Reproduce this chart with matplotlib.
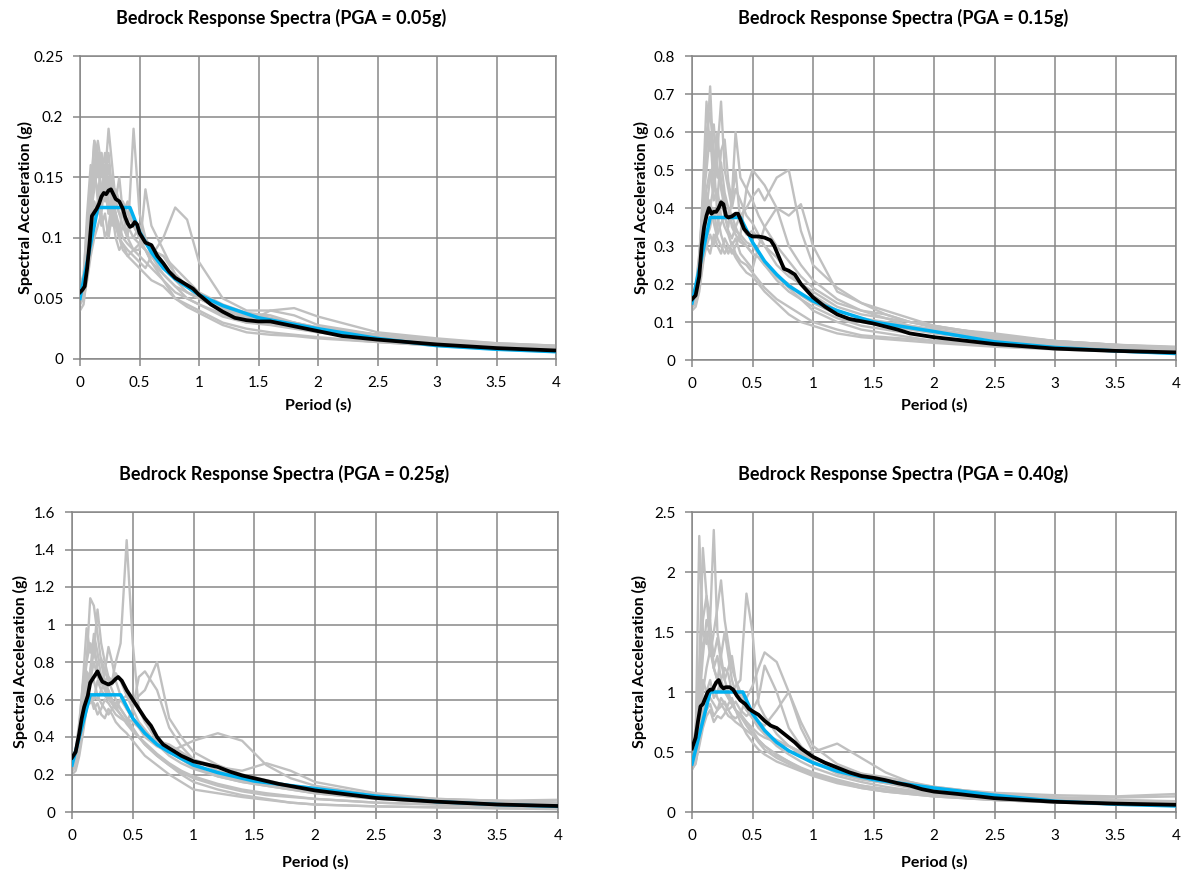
import numpy as np
import matplotlib
matplotlib.use('Agg')
import matplotlib.pyplot as plt

plt.rcParams['font.family'] = ['Lato', 'DejaVu Sans']

# periode (s) untuk rekaman gempa (garis abu-abu)
T_rec = [0, 0.03, 0.06, 0.09, 0.12, 0.15, 0.18, 0.21, 0.24, 0.27, 0.30, 0.33, 0.36, 0.40, 0.45,
         0.50, 0.55, 0.60, 0.70, 0.80, 0.90, 1.0, 1.2, 1.4, 1.6, 1.8, 2.0, 2.5, 3.0, 3.5, 4.0]

# ===== PGA 0.05g =====
rec_005 = [
    [.05, .06, .09, .13, .18, .15, .17, .14, .16, .13, .12, .11, .10, .095, .09, .085, .08, .075, .065, .055, .05, .045, .037, .03, .028, .025, .022, .017, .012, .010, .008],
    [.045, .055, .08, .12, .15, .17, .13, .16, .12, .14, .12, .10, .11, .10, .09, .09, .14, .11, .09, .07, .06, .05, .04, .033, .03, .027, .024, .018, .014, .011, .009],
    [.055, .06, .10, .15, .16, .13, .17, .15, .19, .16, .13, .12, .12, .11, .10, .095, .09, .085, .07, .06, .05, .045, .035, .03, .04, .036, .028, .02, .015, .012, .010],
    [.06, .07, .11, .14, .18, .17, .15, .17, .14, .15, .13, .12, .11, .10, .19, .12, .10, .09, .075, .065, .055, .05, .04, .035, .033, .03, .026, .02, .016, .013, .011],
    [.04, .045, .07, .09, .12, .13, .11, .12, .10, .12, .10, .09, .095, .085, .08, .075, .07, .065, .06, .05, .045, .04, .03, .025, .022, .02, .018, .014, .011, .008, .006],
    [.05, .06, .09, .12, .14, .16, .14, .13, .15, .12, .11, .10, .095, .09, .085, .08, .075, .085, .10, .125, .115, .08, .05, .04, .04, .042, .035, .022, .017, .013, .011],
    [.05, .055, .08, .11, .13, .12, .14, .16, .13, .11, .12, .10, .13, .12, .11, .10, .09, .08, .07, .06, .055, .05, .042, .038, .036, .03, .025, .02, .015, .012, .01],
    [.045, .05, .065, .085, .10, .11, .12, .10, .11, .13, .11, .10, .09, .085, .09, .095, .09, .08, .065, .05, .043, .038, .028, .022, .02, .019, .017, .014, .011, .009, .007],
    [.055, .065, .12, .16, .15, .14, .12, .15, .17, .14, .13, .15, .12, .10, .10, .11, .10, .09, .085, .075, .065, .055, .045, .038, .034, .03, .026, .02, .015, .011, .009],
    [.06, .065, .09, .13, .16, .18, .16, .14, .12, .13, .14, .13, .12, .13, .11, .10, .095, .09, .085, .07, .06, .05, .042, .035, .03, .026, .022, .017, .013, .010, .008],
]
T_tgt_005 = [0, 0.15, 0.42, 0.5, 0.6, 0.7, 0.8, 1.0, 1.2, 1.5, 2.0, 2.5, 3.0, 3.5, 4.0]
tgt_005 = [0.05, 0.125, 0.125, 0.105, 0.088, 0.075, 0.066, 0.053, 0.044, 0.034, 0.025, 0.017, 0.011, 0.008, 0.006]
T_avg_005 = [0, 0.02, 0.04, 0.06, 0.08, 0.1, 0.12, 0.14, 0.16, 0.18, 0.2, 0.22, 0.24, 0.26, 0.28, 0.3, 0.33,
             0.36, 0.38, 0.4, 0.42, 0.44, 0.46, 0.48, 0.5, 0.55, 0.6, 0.65, 0.7, 0.75, 0.8, 0.85, 0.9,
             0.95, 1.0, 1.1, 1.2, 1.3, 1.4, 1.5, 1.6, 1.7, 1.8, 2.0, 2.2, 2.5, 3.0, 3.5, 4.0]
avg_005 = [0.055, 0.057, 0.06, 0.075, 0.095, 0.118, 0.121, 0.124, 0.128, 0.134, 0.137, 0.136, 0.139, 0.14,
           0.136, 0.132, 0.13, 0.124, 0.117, 0.112, 0.109, 0.11, 0.113, 0.111, 0.104, 0.096, 0.094, 0.085,
           0.079, 0.072, 0.067, 0.064, 0.061, 0.058, 0.053, 0.045, 0.039, 0.034, 0.032, 0.031, 0.031,
           0.029, 0.027, 0.023, 0.019, 0.016, 0.012, 0.009, 0.007]

# ===== PGA 0.15g =====
rec_015 = [
    [.15, .17, .25, .45, .68, .55, .62, .50, .45, .40, .38, .36, .34, .33, .31, .30, .28, .26, .22, .20, .17, .15, .12, .10, .09, .08, .07, .05, .035, .028, .022],
    [.14, .16, .22, .38, .55, .72, .50, .60, .47, .42, .40, .35, .33, .31, .30, .28, .27, .25, .21, .18, .16, .14, .11, .09, .08, .07, .06, .045, .033, .026, .02],
    [.16, .18, .27, .42, .50, .60, .45, .55, .68, .50, .45, .40, .45, .42, .38, .36, .33, .30, .25, .22, .20, .17, .13, .11, .10, .09, .08, .055, .04, .032, .026],
    [.13, .14, .18, .25, .32, .35, .40, .33, .36, .38, .35, .43, .60, .48, .45, .42, .38, .35, .30, .26, .22, .19, .15, .13, .12, .10, .09, .06, .045, .035, .03],
    [.14, .15, .20, .28, .30, .28, .33, .30, .28, .32, .30, .28, .30, .33, .45, .50, .48, .46, .40, .30, .25, .21, .16, .13, .11, .10, .085, .07, .05, .04, .035],
    [.15, .16, .21, .30, .38, .42, .36, .32, .30, .28, .30, .29, .27, .25, .23, .22, .20, .18, .15, .12, .10, .09, .07, .06, .055, .05, .045, .035, .028, .022, .017],
    [.17, .19, .28, .40, .45, .50, .42, .45, .38, .35, .33, .30, .32, .28, .26, .24, .30, .35, .40, .38, .41, .30, .18, .15, .13, .11, .09, .065, .05, .04, .033],
    [.14, .15, .19, .26, .30, .33, .30, .35, .42, .38, .34, .32, .35, .38, .40, .43, .45, .42, .48, .50, .34, .25, .19, .15, .12, .10, .09, .065, .05, .04, .03],
    [.16, .17, .25, .40, .60, .65, .55, .48, .52, .44, .40, .38, .35, .32, .30, .28, .27, .25, .22, .19, .16, .13, .10, .08, .07, .06, .05, .04, .032, .025, .02],
    [.15, .17, .24, .35, .44, .40, .46, .42, .55, .58, .47, .42, .50, .36, .33, .34, .32, .30, .27, .23, .20, .18, .14, .12, .11, .09, .08, .06, .04, .03, .025],
    [.14, .16, .23, .33, .40, .48, .52, .38, .33, .30, .28, .31, .28, .26, .25, .23, .21, .19, .16, .14, .12, .10, .08, .065, .06, .055, .05, .04, .03, .024, .018],
]
T_tgt_015 = [0, 0.15, 0.4, 0.5, 0.6, 0.7, 0.8, 1.0, 1.2, 1.5, 2.0, 2.5, 3.0, 3.5, 4.0]
tgt_015 = [0.15, 0.375, 0.375, 0.31, 0.26, 0.225, 0.195, 0.155, 0.13, 0.10, 0.075, 0.048, 0.033, 0.024, 0.017]
T_avg_015 = [0, 0.03, 0.06, 0.08, 0.1, 0.12, 0.14, 0.16, 0.18, 0.2, 0.22, 0.24, 0.26, 0.28, 0.3, 0.33, 0.36,
             0.38, 0.4, 0.43, 0.47, 0.5, 0.55, 0.6, 0.65, 0.68, 0.72, 0.76, 0.8, 0.85, 0.9, 1.0, 1.1, 1.2,
             1.3, 1.5, 1.7, 1.8, 2.0, 2.5, 3.0, 3.5, 4.0]
avg_015 = [0.16, 0.17, 0.22, 0.3, 0.35, 0.38, 0.40, 0.385, 0.39, 0.39, 0.40, 0.415, 0.41, 0.38, 0.375, 0.378,
           0.385, 0.385, 0.37, 0.345, 0.33, 0.325, 0.325, 0.322, 0.315, 0.3, 0.27, 0.24, 0.235, 0.225, 0.2,
           0.165, 0.14, 0.12, 0.108, 0.096, 0.08, 0.07, 0.06, 0.042, 0.03, 0.024, 0.02]

# ===== PGA 0.25g =====
rec_025 = [
    [.25, .28, .45, .70, .98, .85, .92, .75, .70, .65, .60, .58, .55, .52, .47, .43, .40, .37, .31, .26, .22, .19, .15, .12, .10, .085, .07, .05, .04, .032, .025],
    [.22, .25, .38, .60, .80, 1.14, 1.10, .95, .80, .70, .65, .60, .57, .55, .50, .45, .40, .36, .30, .25, .21, .18, .14, .11, .09, .08, .07, .05, .04, .03, .025],
    [.28, .30, .42, .55, .70, .75, .85, 1.08, .90, .80, .72, .68, .74, .70, .62, .55, .48, .44, .36, .30, .26, .23, .19, .16, .14, .12, .10, .07, .05, .04, .035],
    [.24, .26, .35, .50, .60, .58, .62, .60, .65, .70, .72, .70, .80, .90, 1.45, .90, .55, .48, .38, .32, .28, .24, .19, .16, .14, .12, .10, .07, .055, .045, .038],
    [.20, .22, .30, .42, .55, .60, .58, .52, .55, .60, .58, .55, .52, .50, .48, .55, .72, .75, .65, .45, .35, .28, .22, .18, .15, .13, .11, .08, .06, .05, .04],
    [.26, .28, .40, .62, .72, .68, .70, .62, .58, .55, .52, .55, .58, .60, .62, .58, .62, .65, .80, .50, .40, .32, .25, .20, .17, .14, .12, .08, .06, .05, .04],
    [.30, .33, .48, .68, .80, .90, .85, .78, .82, .75, .70, .65, .60, .55, .50, .48, .45, .40, .35, .32, .35, .38, .42, .38, .25, .18, .14, .09, .07, .06, .05],
    [.23, .25, .33, .45, .58, .62, .55, .58, .52, .50, .55, .52, .48, .45, .42, .38, .34, .30, .25, .20, .16, .12, .10, .08, .065, .05, .04, .03, .025, .02, .018],
    [.27, .30, .45, .60, .75, .70, .80, .72, .68, .75, .88, .80, .70, .62, .55, .50, .46, .42, .38, .36, .32, .28, .24, .22, .26, .22, .16, .10, .07, .06, .05],
    [.25, .27, .38, .55, .65, .75, .95, .85, .72, .68, .62, .58, .55, .60, .55, .50, .45, .42, .36, .34, .30, .26, .20, .17, .15, .14, .13, .09, .065, .06, .065],
    [.22, .24, .32, .45, .55, .62, .60, .70, .65, .62, .60, .58, .56, .52, .48, .44, .40, .36, .30, .25, .20, .16, .12, .09, .07, .05, .04, .03, .025, .02, .015],
]
T_tgt_025 = [0, 0.15, 0.4, 0.5, 0.6, 0.7, 0.8, 1.0, 1.2, 1.5, 2.0, 2.5, 3.0, 3.5, 4.0]
tgt_025 = [0.25, 0.625, 0.625, 0.5, 0.42, 0.36, 0.32, 0.25, 0.21, 0.165, 0.125, 0.085, 0.055, 0.04, 0.03]
T_avg_025 = [0, 0.03, 0.06, 0.08, 0.1, 0.13, 0.15, 0.17, 0.19, 0.21, 0.23, 0.25, 0.3, 0.33, 0.36, 0.38, 0.41,
             0.45, 0.5, 0.55, 0.6, 0.65, 0.7, 0.75, 0.8, 0.9, 1.0, 1.1, 1.2, 1.3, 1.4, 1.5, 1.7, 2.0, 2.5,
             3.0, 3.5, 4.0]
avg_025 = [0.29, 0.32, 0.42, 0.5, 0.56, 0.62, 0.69, 0.71, 0.73, 0.75, 0.72, 0.695, 0.68, 0.69, 0.71, 0.72, 0.70,
           0.65, 0.6, 0.55, 0.5, 0.46, 0.4, 0.36, 0.34, 0.3, 0.27, 0.255, 0.24, 0.215, 0.195, 0.18, 0.15,
           0.115, 0.075, 0.055, 0.04, 0.032]

# ===== PGA 0.40g =====
rec_040 = [
    [.40, .60, 2.30, 1.5, 1.4, 1.6, 1.2, 1.3, 1.1, 1.0, .95, .90, .85, .80, .72, .65, .58, .52, .45, .40, .35, .31, .25, .20, .17, .15, .13, .10, .08, .065, .055],
    [.38, .50, 1.2, 2.2, 1.8, 1.6, 2.35, 1.5, 1.3, 1.1, 1.0, .90, .85, .82, .75, .68, .60, .55, .47, .42, .37, .33, .27, .22, .19, .16, .14, .10, .08, .065, .055],
    [.45, .60, 1.0, 1.4, 1.5, 1.3, 1.5, 1.7, 1.93, 1.6, 1.4, 1.2, 1.1, 1.0, .90, .80, .72, .65, .55, .48, .42, .37, .30, .25, .21, .18, .16, .12, .09, .075, .065],
    [.35, .42, .60, .80, 1.0, 1.1, .95, 1.0, 1.1, 1.2, 1.15, 1.0, 1.05, 1.1, 1.82, 1.5, .90, .80, .65, .55, .48, .42, .34, .28, .24, .21, .18, .14, .11, .09, .08],
    [.42, .50, .75, 1.1, 1.0, .95, .90, .85, .88, .92, .85, .80, .78, .82, .95, 1.05, 1.2, 1.33, 1.25, 1.0, .75, .55, .40, .32, .27, .24, .21, .15, .12, .10, .085],
    [.36, .40, .58, .75, .85, .90, .80, .85, .95, .90, .85, .88, .92, .85, .80, .85, .95, 1.22, 1.0, .70, .55, .45, .36, .30, .26, .22, .19, .14, .11, .09, .07],
    [.50, .70, 1.2, 1.6, 1.8, 1.4, 1.2, 1.1, 1.3, 1.5, 1.3, 1.1, 1.0, .95, .85, .80, .75, .72, .85, 1.0, .70, .50, .57, .45, .33, .25, .20, .16, .14, .13, .15],
    [.40, .45, .65, .85, .95, 1.0, 1.05, .95, .90, .85, .80, .78, .75, .72, .68, .64, .60, .55, .48, .42, .36, .32, .26, .22, .19, .17, .15, .13, .12, .12, .13],
    [.38, .45, .70, 1.0, 1.2, 1.35, 1.2, 1.1, 1.0, 1.05, .95, .90, .85, .75, .65, .58, .52, .48, .42, .38, .34, .30, .24, .20, .17, .15, .13, .10, .08, .06, .05],
    [.44, .55, .90, 1.3, 1.6, 1.5, 1.3, 1.45, 1.25, 1.1, 1.2, 1.3, 1.1, .95, .85, .78, .70, .65, .60, .55, .50, .45, .38, .32, .29, .25, .21, .15, .12, .10, .09],
    [.36, .42, .55, .70, .80, .85, .75, .80, .78, .82, .90, .95, .85, .80, .75, .70, .65, .62, .58, .55, .50, .42, .32, .27, .24, .20, .17, .12, .09, .07, .06],
]
T_tgt_040 = [0, 0.15, 0.42, 0.5, 0.6, 0.7, 0.8, 1.0, 1.2, 1.5, 2.0, 2.5, 3.0, 3.5, 4.0]
tgt_040 = [0.4, 1.0, 1.0, 0.82, 0.68, 0.58, 0.51, 0.41, 0.34, 0.27, 0.2, 0.14, 0.09, 0.065, 0.05]
T_avg_040 = [0, 0.03, 0.05, 0.07, 0.09, 0.11, 0.13, 0.15, 0.17, 0.2, 0.22, 0.24, 0.26, 0.28, 0.31, 0.34, 0.37,
             0.4, 0.44, 0.47, 0.5, 0.55, 0.6, 0.65, 0.7, 0.75, 0.8, 0.85, 0.9, 1.0, 1.1, 1.2, 1.3, 1.4, 1.5,
             1.6, 1.7, 1.8, 1.9, 2.0, 2.2, 2.5, 3.0, 3.5, 4.0]
avg_040 = [0.53, 0.62, 0.76, 0.88, 0.9, 0.95, 1.0, 1.02, 1.02, 1.08, 1.1, 1.05, 1.03, 1.04, 1.04, 1.02, 0.97,
           0.93, 0.90, 0.86, 0.84, 0.81, 0.76, 0.72, 0.70, 0.66, 0.62, 0.58, 0.53, 0.46, 0.41, 0.37, 0.33,
           0.30, 0.285, 0.265, 0.24, 0.22, 0.19, 0.17, 0.15, 0.115, 0.085, 0.07, 0.06]

titles = ['Bedrock Response Spectra (PGA = 0.05g)', 'Bedrock Response Spectra (PGA = 0.15g)',
          'Bedrock Response Spectra (PGA = 0.25g)', 'Bedrock Response Spectra (PGA = 0.40g)']
ymax = [0.25, 0.8, 1.6, 2.5]
ystep = [0.05, 0.1, 0.2, 0.5]

panels = [
    (rec_005, T_tgt_005, tgt_005, T_avg_005, avg_005),
    (rec_015, T_tgt_015, tgt_015, T_avg_015, avg_015),
    (rec_025, T_tgt_025, tgt_025, T_avg_025, avg_025),
    (rec_040, T_tgt_040, tgt_040, T_avg_040, avg_040),
]

W, H = 1187, 876
# posisi plot area dalam piksel: kiri, kanan, atas, bawah
boxes = [(80, 556, 56, 359), (692, 1176, 56, 360), (72, 558, 512, 812), (692, 1176, 512, 812)]
title_pos = [(281, 18), (903, 18), (284, 474), (903, 474)]
# posisi label sumbu (piksel): x tepi kanan label-y, y tepi atas label-x
ylab_x = [33, 649, 28, 647]
xlab_y = [398, 398, 855, 855]

grid_c = '#878787'
fig = plt.figure(figsize=(W / 100, H / 100), dpi=100)

for i in range(4):
    l, r, t, b = boxes[i]
    ax = fig.add_axes([l / W, 1 - b / H, (r - l) / W, (b - t) / H])
    rec, Tt, tg, Ta, av = panels[i]
    for s in rec:
        ax.plot(T_rec, s, color='#c0c0c0', lw=1.7, zorder=2, solid_joinstyle='round')
    ax.plot(Tt, tg, color='#00b0f0', lw=2.5, zorder=3)
    ax.plot(Ta, av, color='black', lw=2.7, zorder=4)

    ax.set_xlim(0, 4)
    ax.set_ylim(0, ymax[i])
    ax.set_xticks(np.arange(0, 4.01, 0.5))
    ax.set_xticklabels(['0', '0.5', '1', '1.5', '2', '2.5', '3', '3.5', '4'])
    yt = np.arange(0, ymax[i] + 1e-9, ystep[i])
    ax.set_yticks(yt)
    ax.set_yticklabels(['0' if v == 0 else ('%g' % round(v, 2)) for v in yt])
    ax.grid(True, color=grid_c, lw=1.1, zorder=1)
    ax.set_axisbelow(True)
    for sp in ax.spines.values():
        sp.set_color(grid_c)
        sp.set_linewidth(1.1)
    ax.tick_params(color=grid_c, length=5, width=1.1, labelsize=11)
    ax.tick_params(axis='x', pad=7)
    ax.tick_params(axis='y', pad=7)
    ax.set_xlabel('Period (s)', fontsize=11.5, fontweight='bold')
    ax.set_ylabel('Spectral Acceleration (g)', fontsize=11.5, fontweight='bold')
    ax.xaxis.set_label_coords(0.5, (b - xlab_y[i]) / (b - t))
    ax.yaxis.set_label_coords((ylab_x[i] - l) / (r - l), 0.5)
    fig.text(title_pos[i][0] / W, 1 - title_pos[i][1] / H, titles[i], ha='center', va='center',
             fontsize=13, fontweight='bold')

plt.savefig('out.png', dpi=100)
